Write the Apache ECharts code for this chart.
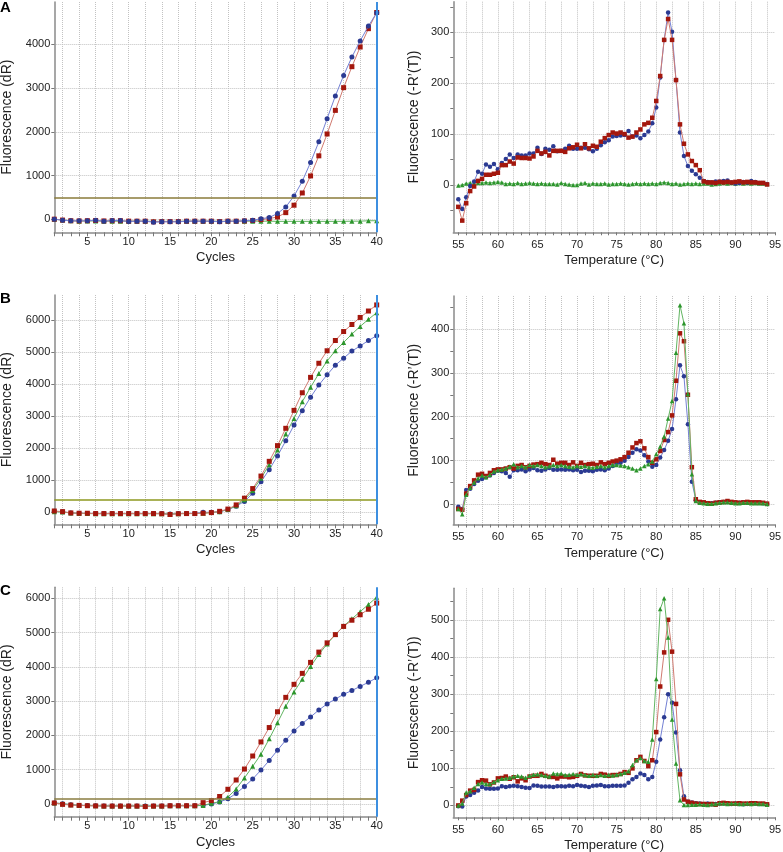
<!DOCTYPE html>
<html><head><meta charset="utf-8">
<script src="https://cdn.jsdelivr.net/npm/echarts@6/dist/echarts.min.js"></script>
<style>html,body{margin:0;padding:0;background:#fff}#c{width:783px;height:852px}</style>
</head><body><div id="c"></div><script>
// ---------- data ----------
const cycles = [1,2,3,4,5,6,7,8,9,10,11,12,13,14,15,16,17,18,19,20,21,22,23,24,25,26,27,28,29,30,31,32,33,34,35,36,37,38,39,40];
const temps = [55,55.5,56,56.5,57,57.5,58,58.5,59,59.5,60,60.5,61,61.5,62,62.5,63,63.5,64,64.5,65,65.5,66,66.5,67,67.5,68,68.5,69,69.5,70,70.5,71,71.5,72,72.5,73,73.5,74,74.5,75,75.5,76,76.5,77,77.5,78,78.5,79,79.5,80,80.5,81,81.5,82,82.5,83,83.5,84,84.5,85,85.5,86,86.5,87,87.5,88,88.5,89,89.5,90,90.5,91,91.5,92,92.5,93,93.5,94];

const ampA_blue = [0,-23,-38,-38,-38,-23,-46,-31,-31,-53,-46,-46,-69,-61,-61,-61,-46,-46,-46,-46,-61,-46,-46,-38,-23,10,40,130,280,530,870,1300,1770,2300,2820,3290,3710,4080,4420,4725];
const ampA_red = [0,-20,-35,-40,-35,-30,-40,-35,-35,-45,-45,-45,-60,-55,-55,-55,-45,-45,-45,-45,-55,-45,-45,-40,-30,-10,15,50,150,320,600,990,1450,1950,2490,3010,3490,3940,4360,4730];
const ampA_green = [0,-20,-35,-45,-40,-40,-45,-45,-45,-45,-45,-45,-50,-50,-50,-50,-45,-45,-45,-45,-50,-50,-45,-45,-45,-45,-45,-50,-50,-50,-50,-50,-50,-50,-50,-50,-45,-45,-35,-35];

const ampB_blue = [30,15,-20,-30,-35,-40,-40,-40,-40,-40,-40,-40,-40,-40,-55,-40,-35,-35,0,0,20,80,190,340,590,950,1330,1760,2230,2720,3170,3590,3970,4290,4590,4810,5030,5190,5360,5510];
const ampB_red = [40,20,-20,-30,-30,-40,-40,-40,-40,-40,-40,-40,-40,-45,-70,-45,-40,-40,-30,-10,30,100,230,440,740,1130,1590,2080,2620,3180,3730,4210,4650,5040,5360,5640,5860,6080,6280,6470];
const ampB_green = [20,5,-20,-35,-40,-45,-45,-45,-45,-45,-45,-45,-45,-45,-55,-45,-40,-40,-30,-10,20,90,200,390,680,1060,1480,1940,2440,2930,3450,3900,4330,4720,5040,5300,5560,5800,6020,6230];

const ampC_blue = [30,10,-20,-40,-45,-50,-55,-55,-55,-55,-55,-60,-55,-55,-50,-50,-50,-50,-40,0,60,150,310,510,730,990,1270,1570,1860,2130,2350,2540,2740,2920,3060,3200,3310,3430,3550,3680];
const ampC_red = [30,-10,-30,-40,-50,-55,-60,-60,-60,-60,-60,-75,-60,-60,-50,-50,-50,-50,40,100,220,430,700,1020,1400,1810,2230,2690,3110,3490,3810,4130,4430,4700,4940,5180,5360,5520,5680,5860];
const ampC_green = [30,10,-20,-40,-45,-50,-55,-55,-55,-55,-55,-60,-55,-55,-50,-50,-50,-50,-40,20,70,200,440,760,1100,1450,1900,2370,2850,3270,3640,4010,4360,4670,4940,5190,5400,5610,5820,6030];

const thresholds = [500, 380, 150];
const cutoffCycle = 40;

const meltA_blue = [-28,-47,-24,-2,7,26,22,40,36,41,31,43,51,60,53,60,58,58,62,62,73,61,71,69,76,66,67,71,77,71,71,73,73,70,66,71,78,84,88,95,96,97,98,106,95,97,92,98,105,121,152,211,285,339,301,206,103,57,37,28,21,14,8,6,5,7,7,8,9,5,3,4,6,5,8,6,4,4,2];
const meltA_red = [-43,-70,-36,-12,-3,8,12,20,20,22,24,39,39,46,42,54,53,53,52,56,67,62,65,58,67,67,67,65,72,74,79,72,80,72,77,75,85,92,98,103,101,103,100,93,95,103,109,119,122,132,165,214,285,326,285,206,119,81,60,47,39,29,7,5,5,4,6,5,6,5,6,7,5,6,5,5,4,4,1];
const meltA_green = [-1,0,3,4,3,4,4,5,4,5,6,5,2,3,2,4,2,3,4,3,2,3,2,2,2,1,4,2,1,0,0,3,4,1,3,2,2,3,1,2,2,3,2,1,2,3,2,3,2,3,2,4,5,4,2,3,1,2,3,2,3,2,3,3,1,2,3,4,3,4,3,4,3,4,3,4,3,3,2];

const meltB_blue = [-5,-10,33,36,47,54,58,62,66,72,77,76,72,63,78,78,80,76,80,83,78,77,80,83,79,79,80,79,80,78,79,74,77,77,76,79,80,78,82,88,93,95,100,108,118,126,123,112,98,86,90,107,124,145,172,240,317,292,183,52,10,5,4,3,3,4,5,6,7,5,4,4,5,5,4,4,4,3,2];
const meltB_red = [-10,-12,25,42,55,68,70,65,72,78,80,80,82,85,82,88,90,85,88,91,92,95,92,90,102,93,95,95,90,96,88,95,90,92,93,90,96,92,95,98,100,103,108,118,130,140,144,128,108,95,103,122,147,165,203,282,390,372,250,85,12,6,5,3,2,4,5,6,8,6,5,4,5,6,5,5,5,4,2];
const meltB_green = [-10,-22,22,38,50,60,66,62,68,75,78,80,82,86,92,85,88,85,90,88,90,88,85,87,90,88,90,88,86,85,88,86,88,85,84,86,88,85,88,90,90,89,88,85,82,78,82,88,92,98,115,132,155,196,236,346,454,413,252,69,8,4,3,2,2,3,4,5,5,4,3,3,4,4,3,3,3,3,1];

const meltC_blue = [-2,-3,24,28,34,40,50,46,45,45,46,52,50,52,53,52,50,48,47,54,53,51,51,51,50,52,52,51,53,52,55,53,52,50,53,54,55,52,52,53,53,53,54,61,71,77,86,82,71,77,118,178,238,300,277,197,95,25,10,8,6,5,4,5,3,4,5,6,5,4,5,4,3,4,5,5,4,4,3];
const meltC_red = [0,13,28,40,42,63,68,67,57,62,73,74,78,72,76,65,73,68,78,80,80,85,80,77,77,73,78,78,76,77,80,85,81,80,80,80,85,83,80,82,82,85,90,88,100,122,131,120,106,122,198,321,413,501,415,274,84,16,10,7,5,4,4,3,4,2,6,7,6,5,5,6,5,5,6,6,5,5,3];
const meltC_green = [0,5,35,38,48,58,62,58,58,63,68,72,73,75,78,80,78,75,80,83,84,82,80,78,86,85,86,82,83,85,83,84,82,80,82,80,82,80,82,81,83,85,88,92,109,122,128,120,118,178,341,530,559,453,232,113,14,1,1,2,2,3,2,1,3,4,6,5,4,5,5,4,4,5,4,5,4,4,2];

// tick / label values
const cycleLabels = [5,10,15,20,25,30,35,40];
const cycleGrid = [2,4,6,8,10,12,14,16,18,20,22,24,26,28,30,32,34,36,38];
const tempTicks = [55,56,57,58,59,60,61,62,63,64,65,66,67,68,69,70,71,72,73,74,75,76,77,78,79,80,81,82,83,84,85,86,87,88,89,90,91,92,93,94,95];
const tempLabels = [55,60,65,70,75,80,85,90,95];
const tempGrid = [56,58,60,62,64,66,68,70,72,74,76,78,80,82,84,86,88,90,92,94];
const ampLabelsA = [0,1000,2000,3000,4000];
const ampLabelsBC = [0,1000,2000,3000,4000,5000,6000];
const meltLabelsA = [0,100,200,300];
const meltTicksA = [-50,0,50,100,150,200,250,300,350];
const meltLabelsB = [0,100,200,300,400];
const meltTicksB = [0,50,100,150,200,250,300,350,400,450];
const meltLabelsC = [0,100,200,300,400,500];
const meltTicksC = [0,50,100,150,200,250,300,350,400,450,500,550];

// ---------- styling ----------
const FF = 'Liberation Sans, Arial, Helvetica, sans-serif';
const AX = '#8a8a8a';
const GRID = '#c2c2c2';
const COL = {
  blue: {line:'#7481d4', mark:'#2b3a92', sym:'circle'},
  red: {line:'#d07a70', mark:'#a3170d', sym:'rect'},
  green: {line:'#62b562', mark:'#2c952c', sym:'triangle'}
};
const thrColors = ['#8a7b3a', '#8e981f', '#8a7d40'];
const plain = v => String(v);

const panels = [
  {kind:'amp', rect:[54.3, 2, 322.4, 230.3], y:[-300, 4970], yl:ampLabelsA, yt:ampLabelsA, s:[ampA_green, ampA_red, ampA_blue], thr:0},
  {kind:'amp', rect:[54.3, 295, 322.4, 229.3], y:[-375, 6780], yl:ampLabelsBC, yt:ampLabelsBC, s:[ampB_blue, ampB_green, ampB_red], thr:1},
  {kind:'amp', rect:[54.3, 587.3, 322.4, 229.4], y:[-370, 6320], yl:ampLabelsBC, yt:ampLabelsBC, s:[ampC_blue, ampC_green, ampC_red], thr:2},
  {kind:'melt', rect:[453.3, 1.7, 321.7, 230.6], y:[-93, 360], yl:meltLabelsA, yt:meltTicksA, s:[meltA_green, meltA_blue, meltA_red]},
  {kind:'melt', rect:[453.3, 296, 321.7, 228.5], y:[-45.5, 475], yl:meltLabelsB, yt:meltTicksB, s:[meltB_blue, meltB_red, meltB_green]},
  {kind:'melt', rect:[453.3, 588.3, 321.7, 229], y:[-32, 586], yl:meltLabelsC, yt:meltTicksC, s:[meltC_blue, meltC_red, meltC_green]}
];
const seriesColorOrder = [
  ['green','red','blue'], ['blue','green','red'], ['blue','green','red'],
  ['green','blue','red'], ['blue','red','green'], ['blue','red','green']
];

const grids = [], xAxes = [], yAxes = [], series = [];
panels.forEach((p, gi) => {
  grids.push({left:p.rect[0], top:p.rect[1], width:p.rect[2], height:p.rect[3], containLabel:false, outerBoundsMode:'none'});
  const isAmp = p.kind === 'amp';
  const xmin = isAmp ? 1 : 54.37, xmax = isAmp ? 40 : 95;
  const visX = xAxes.length;
  xAxes.push({
    type:'value', gridIndex:gi, min:xmin, max:xmax, position:'bottom',
    axisLine:{show:true, onZero:false, lineStyle:{color:AX, width:1.5}},
    axisTick:{show:true, customValues: isAmp ? cycles : tempTicks, length:isAmp?4:3, lineStyle:{color:'#777'}},
    axisLabel:{show:true, customValues: isAmp ? cycleLabels : tempLabels, formatter:plain, margin: isAmp?4:7, fontSize:11, color:'#222', fontFamily:FF},
    splitLine:{show:false},
    name: isAmp ? 'Cycles' : 'Temperature (°C)', nameLocation:'middle', nameGap: isAmp?19:22,
    nameTextStyle:{fontSize:13, color:'#222', fontFamily:FF}
  });
  xAxes.push({
    type:'value', gridIndex:gi, min:xmin, max:xmax, position:'top',
    axisLine:{show:false}, axisLabel:{show:false},
    axisTick:{show:false, customValues: isAmp ? cycleGrid : tempGrid},
    splitLine:{show:true, lineStyle:{color:GRID, type:'dotted', width:1}}
  });
  const visY = yAxes.length;
  yAxes.push({
    type:'value', gridIndex:gi, min:p.y[0], max:p.y[1], position:'left',
    axisLine:{show:true, onZero:false, lineStyle:{color:AX, width:1.5}},
    axisTick:{show:true, customValues:p.yt, length:3, lineStyle:{color:'#777'}},
    axisLabel:{show:true, customValues:p.yl, formatter:plain, margin:4, fontSize:11, color:'#222', fontFamily:FF},
    splitLine:{show:false},
    name: isAmp ? 'Fluorescence (dR)' : 'Fluorescence (-R\u2019(T))', nameLocation:'middle', nameGap: isAmp?40:32,
    nameTextStyle:{fontSize:14, color:'#222', fontFamily:FF}
  });
  yAxes.push({
    type:'value', gridIndex:gi, min:p.y[0], max:p.y[1], position:'right',
    axisLine:{show:false}, axisLabel:{show:false},
    axisTick:{show:false, customValues:p.yl},
    splitLine:{show:true, lineStyle:{color:GRID, type:'dotted', width:1}}
  });
  const xs = isAmp ? cycles : temps;
  p.s.forEach((arr, si) => {
    const c = COL[seriesColorOrder[gi][si]];
    const ser = {
      type:'line', xAxisIndex:visX, yAxisIndex:visY,
      data: xs.map((x, k) => [x, arr[k]]),
      symbol:c.sym, symbolSize: isAmp ? 5 : 4.5,
      itemStyle:{color:c.mark}, lineStyle:{color:c.line, width:1},
      animation:false, silent:true, z:2+si
    };
    if (isAmp && si === p.s.length - 1) {
      ser.markLine = {
        silent:true, symbol:['none','none'], label:{show:false}, animation:false,
        data:[
          {yAxis:thresholds[p.thr], lineStyle:{color:thrColors[p.thr], width:1.5, type:'solid'}},
          {xAxis:cutoffCycle, lineStyle:{color:'#3d8fe0', width:2, type:'solid'}}
        ]
      };
    }
    series.push(ser);
  });
});

const chart = echarts.init(document.getElementById('c'), null, {renderer:'canvas'});
chart.setOption({
  backgroundColor:'#ffffff',
  animation:false,
  textStyle:{fontFamily:FF},
  grid:grids, xAxis:xAxes, yAxis:yAxes, series:series,
  graphic:[
    {type:'text', left:0, top:0, style:{text:'A', font:'bold 15px ' + FF, fill:'#000'}},
    {type:'text', left:0, top:291, style:{text:'B', font:'bold 15px ' + FF, fill:'#000'}},
    {type:'text', left:0, top:583, style:{text:'C', font:'bold 15px ' + FF, fill:'#000'}}
  ]
});
</script></body></html>
